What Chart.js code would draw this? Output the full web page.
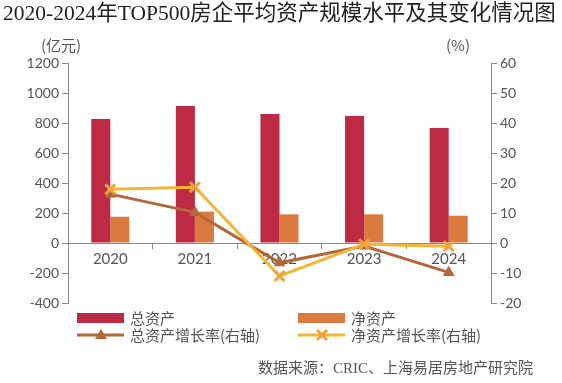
<!DOCTYPE html>
<html><head><meta charset="utf-8">
<script src="https://cdn.jsdelivr.net/npm/chart.js@4/dist/chart.umd.min.js"></script>
<style>html,body{margin:0;padding:0;background:#fff}#wrap{width:562px;height:383px}</style>
</head><body><div id="wrap"><canvas id="c" width="562" height="383"></canvas></div>
<script>
const categories = ['2020', '2021', '2022', '2023', '2024'];
const totalAssets = [827, 913, 860, 847, 767];
const netAssets = [175, 209, 191, 191, 182];
const totalGrowth = [16.3, 10.2, -6.6, -1.0, -9.8];
const netGrowth = [17.9, 18.6, -11.0, -0.4, -1.1];
const leftTicks = { min: -400, max: 1200, step: 200 };
const rightTicks = { min: -20, max: 60, step: 10 };

const TXT = '#555555';
const CJK = '"Noto Sans CJK SC", sans-serif';
const SERIF = '"Liberation Serif", "Noto Sans CJK SC", serif';

const deco = {
  id: 'deco',
  afterDraw(chart) {
    const ctx = chart.ctx;
    ctx.save();
    ctx.fillStyle = '#222';
    ctx.font = '21.5px ' + SERIF;
    ctx.textBaseline = 'middle';
    ctx.textAlign = 'left';
    ctx.fillText('2020-2024年TOP500房企平均资产规模水平及其变化情况图', 3, 14);
    ctx.fillStyle = TXT;
    ctx.font = '15px ' + CJK;
    ctx.fillText('(亿元)', 41, 45);
    ctx.fillText('(%)', 446, 45);
    const ds = chart.data.datasets;
    ctx.font = '15px ' + CJK;
    const items = [
      { i: 0, x: 77, y: 318, type: 'bar' },
      { i: 1, x: 298, y: 318, type: 'bar' },
      { i: 2, x: 77, y: 335, type: 'line' },
      { i: 3, x: 298, y: 335, type: 'line' }
    ];
    items.forEach(it => {
      const d = ds[it.i];
      if (it.type === 'bar') {
        ctx.fillStyle = d.backgroundColor;
        ctx.fillRect(it.x, it.y - 5, 47, 10);
      } else {
        ctx.strokeStyle = d.borderColor;
        ctx.lineWidth = 3;
        ctx.beginPath(); ctx.moveTo(it.x, it.y); ctx.lineTo(it.x + 47, it.y); ctx.stroke();
        const cx = it.x + 24;
        if (d.pointStyle === 'triangle') {
          ctx.fillStyle = d.pointBackgroundColor;
          ctx.beginPath(); ctx.moveTo(cx, it.y - 6); ctx.lineTo(cx + 6, it.y + 4); ctx.lineTo(cx - 6, it.y + 4); ctx.closePath(); ctx.fill();
        } else {
          ctx.strokeStyle = d.pointBorderColor;
          ctx.lineWidth = 3;
          ctx.beginPath(); ctx.moveTo(cx - 5, it.y - 5); ctx.lineTo(cx + 5, it.y + 5); ctx.moveTo(cx + 5, it.y - 5); ctx.lineTo(cx - 5, it.y + 5); ctx.stroke();
        }
      }
      ctx.fillStyle = TXT;
      ctx.textAlign = 'left';
      ctx.textBaseline = 'middle';
      ctx.fillText(d.label, it.x + 53, it.y);
    });
    ctx.font = '15px ' + SERIF;
    ctx.fillStyle = TXT;
    ctx.fillText('数据来源：CRIC、上海易居房地产研究院', 258, 369);
    ctx.restore();
  }
};

new Chart(document.getElementById('c'), {
  data: {
    labels: categories,
    datasets: [
      { type: 'bar', label: '总资产', data: totalAssets, backgroundColor: '#BE2A43', yAxisID: 'y', order: 2, categoryPercentage: 0.45, barPercentage: 1.0 },
      { type: 'bar', label: '净资产', data: netAssets, backgroundColor: '#DB7A3E', yAxisID: 'y', order: 2, categoryPercentage: 0.45, barPercentage: 1.0 },
      { type: 'line', label: '总资产增长率(右轴)', data: totalGrowth, yAxisID: 'y1', order: 1,
        borderColor: '#B3673A', borderWidth: 3, pointStyle: 'triangle', pointRadius: 6,
        pointBackgroundColor: '#B3673A', pointBorderColor: '#B3673A', pointBorderWidth: 1, tension: 0 },
      { type: 'line', label: '净资产增长率(右轴)', data: netGrowth, yAxisID: 'y1', order: 0,
        borderColor: '#F2B535', borderWidth: 3, pointStyle: 'crossRot', pointRadius: 7,
        pointBackgroundColor: '#F2A23A', pointBorderColor: '#F2A23A', pointBorderWidth: 3, tension: 0 }
    ]
  },
  options: {
    responsive: false,
    animation: false,
    layout: { padding: { top: 63, bottom: 80, left: 0, right: 0 } },
    plugins: { legend: { display: false }, title: { display: false }, tooltip: { enabled: false } },
    scales: {
      x: {
        position: { y: 0 },
        offset: true,
        grid: { display: true, drawOnChartArea: false, drawTicks: true, tickLength: 5, color: '#8a8a8a', offset: true },
        border: { display: true, color: '#8a8a8a', width: 1 },
        ticks: { color: TXT, font: { family: 'Lato', size: 15 }, padding: 2 }
      },
      y: {
        position: 'left',
        min: leftTicks.min, max: leftTicks.max,
        afterFit: s => { s.width = 68; },
        grid: { display: true, drawOnChartArea: false, tickLength: 6, color: '#8a8a8a' },
        border: { display: true, color: '#8a8a8a', width: 1 },
        ticks: { stepSize: leftTicks.step, color: TXT, font: { family: 'Lato', size: 14 }, padding: 3, callback: v => String(v) }
      },
      y1: {
        position: 'right',
        min: rightTicks.min, max: rightTicks.max,
        afterFit: s => { s.width = 71; },
        grid: { display: true, drawOnChartArea: false, tickLength: 6, color: '#8a8a8a' },
        border: { display: true, color: '#8a8a8a', width: 1 },
        ticks: { stepSize: rightTicks.step, color: TXT, font: { family: 'Lato', size: 14 }, padding: 3, callback: v => String(v) }
      }
    }
  },
  plugins: [deco]
});
</script>
</body></html>
